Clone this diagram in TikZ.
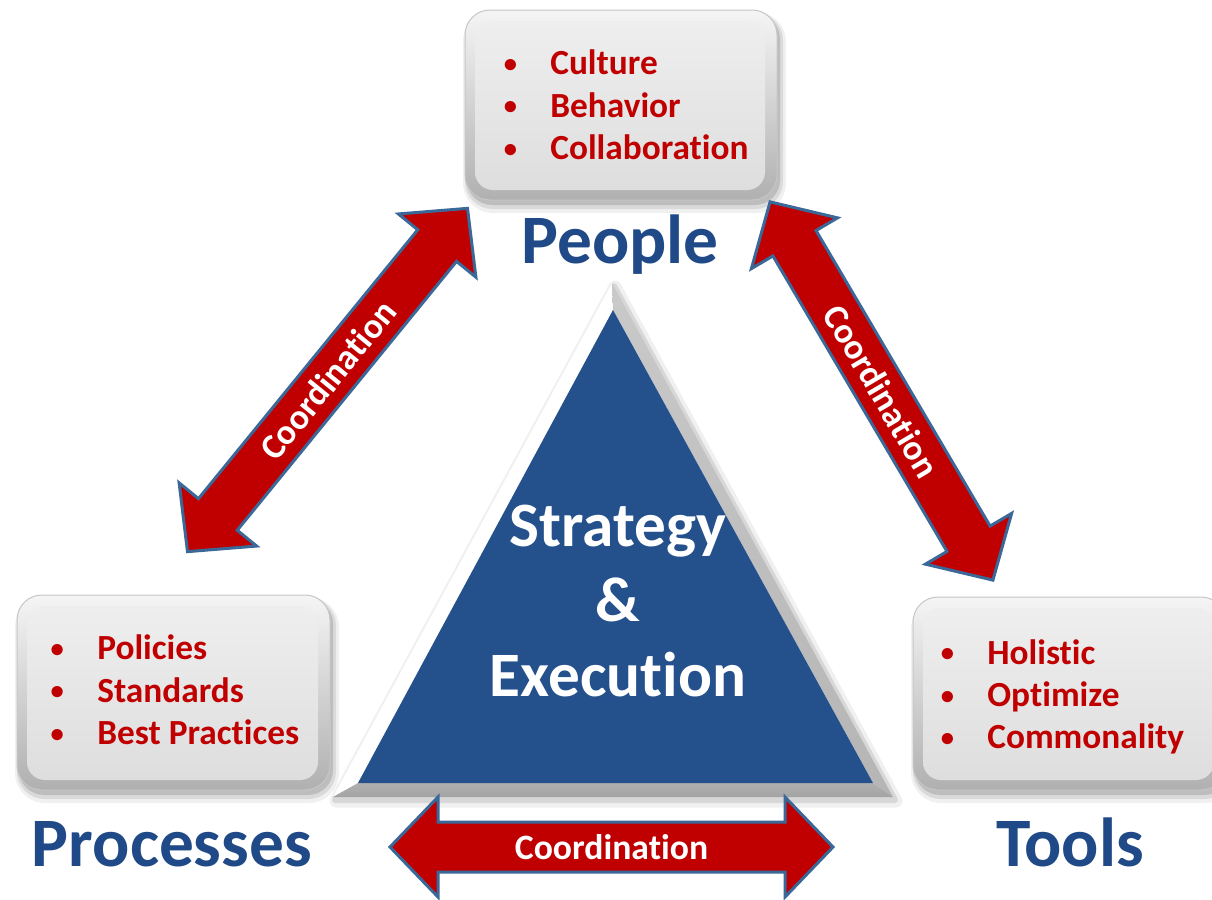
\documentclass[tikz,border=0pt]{standalone}
\usepackage{fontspec}
\setmainfont{Carlito}[Ligatures={NoCommon,NoContextual}]
\usetikzlibrary{calc}
\definecolor{txtblue}{HTML}{1F4A87}
\definecolor{triblue}{HTML}{24508C}
\definecolor{redc}{HTML}{C00000}
\definecolor{arrowline}{HTML}{3A6898}
\definecolor{facegray}{HTML}{E7E7E7}
\newcommand\bitem[1]{\makebox[1.6cm][c]{\raisebox{0.07em}{\scalebox{0.75}{\textbullet}}}#1}
\newcommand\bevbox[5]{%
  \fill[black,opacity=0.06,rounded corners=0.6cm] (#1-2,#2+2) rectangle (#3+9,#4+13);
  \fill[black,opacity=0.09,rounded corners=0.55cm] (#1,#2+3) rectangle (#3+6,#4+9);
  \fill[black,opacity=0.13,rounded corners=0.5cm] (#1+2,#2+4) rectangle (#3+3,#4+5);
  \shade[rounded corners=0.5cm, top color=gray!8, bottom color=gray!62, draw=gray!45, line width=0.02cm] (#1,#2) rectangle (#3,#4);
  \shade[rounded corners=0.36cm, top color=facegray!70!white, bottom color=facegray!96!black] (#1+10,#2+11) rectangle (#3-12,#4-10);
  \coordinate (#5) at ($(#1,#2)!0.5!(#3,#4)$);
}
\newcommand\coordarrow[4]{%
  \begin{scope}[shift={#1}, rotate=#2]
    \draw[arrowshape] (-#3/2,0) -- ++(48,50) -- ++(0,-25) -- (#3/2-48,25) -- ++(0,25) -- (#3/2,0)
      -- ++(-48,-50) -- ++(0,25) -- (-#3/2+48,-25) -- ++(0,-25) -- cycle;
    \node[arrowtext, rotate=#2] (#4) at (0,0) {Coordination};
  \end{scope}
}
\begin{document}
\begin{tikzpicture}[x=0.02cm,y=-0.02cm,
  itemtext/.style={anchor=west, inner sep=0pt, align=left, text=redc, font=\fontsize{20.1}{24.1}\selectfont\bfseries},
  biglabel/.style={anchor=base, inner sep=0pt, text=txtblue, font=\fontsize{39.5}{44}\selectfont\bfseries},
  arrowshape/.style={fill=redc, draw=arrowline, line width=0.06cm, line join=miter},
  arrowtext/.style={text=white, inner sep=0pt, font=\fontsize{20.3}{23}\selectfont\bfseries},
  centertext/.style={text=white, align=center, inner sep=0pt, font=\fontsize{36}{42.5}\selectfont\bfseries}]
\useasboundingbox (0,0) rectangle (1212,899);
\fill[white] (0,0) rectangle (1212,899);
\clip (0,0) rectangle (1212,899);

% boxes
\bevbox{465}{10}{777}{200}{peoplebox}
\bevbox{17}{595}{330}{790}{processbox}
\bevbox{913}{597}{1226}{790}{toolsbox}

\node[itemtext] (peopleitems) at (470,105) {\bitem{Culture}\\\bitem{Behavior}\\\bitem{Collaboration}};
\node[itemtext] (processitems) at (17,690) {\bitem{Policies}\\\bitem{Standards}\\\bitem{Best Practices}};
\node[itemtext] (toolsitems) at (907,697) {\bitem{Holistic}\\\bitem{Optimize}\\\bitem{Commonality}};

\node[biglabel] (people) at (620,263) {People};
\node[biglabel] (processes) at (172,866) {Processes};
\node[biglabel] (tools) at (1070,866) {Tools};

% triangle
\coordinate (O1) at (612,283);
\coordinate (OL) at (333,797);
\coordinate (OR) at (893,797);
\coordinate (I1) at (613,310);
\coordinate (IL) at (358,783);
\coordinate (IR) at (873,783);
\draw[black, opacity=0.06, line width=0.26cm, line join=round] ($(O1)+(3,4)$) -- ($(OL)+(3,4)$) -- ($(OR)+(3,4)$) -- cycle;
\draw[black, opacity=0.10, line width=0.12cm, line join=round] ($(O1)+(2,3)$) -- ($(OL)+(2,3)$) -- ($(OR)+(2,3)$) -- cycle;
\fill[white] (O1) -- (OL) -- (IL) -- (I1) -- cycle;
\shade[top color=gray!42, bottom color=gray!58] (O1) -- (OR) -- (IR) -- (I1) -- cycle;
\shade[top color=gray!62, bottom color=gray!72] (OL) -- (OR) -- (IR) -- (IL) -- cycle;
\fill[triblue] (I1) -- (IL) -- (IR) -- cycle;
\node[centertext] (center) at (618,601) {Strategy\\\&\\Execution};

% arrows
\coordarrow{(327.5,380)}{50.8}{443}{leftarrow}
\coordarrow{(881.5,391)}{-59.5}{439}{rightarrow}
\coordarrow{(611.5,847)}{0}{443}{bottomarrow}
\end{tikzpicture}
\end{document}
